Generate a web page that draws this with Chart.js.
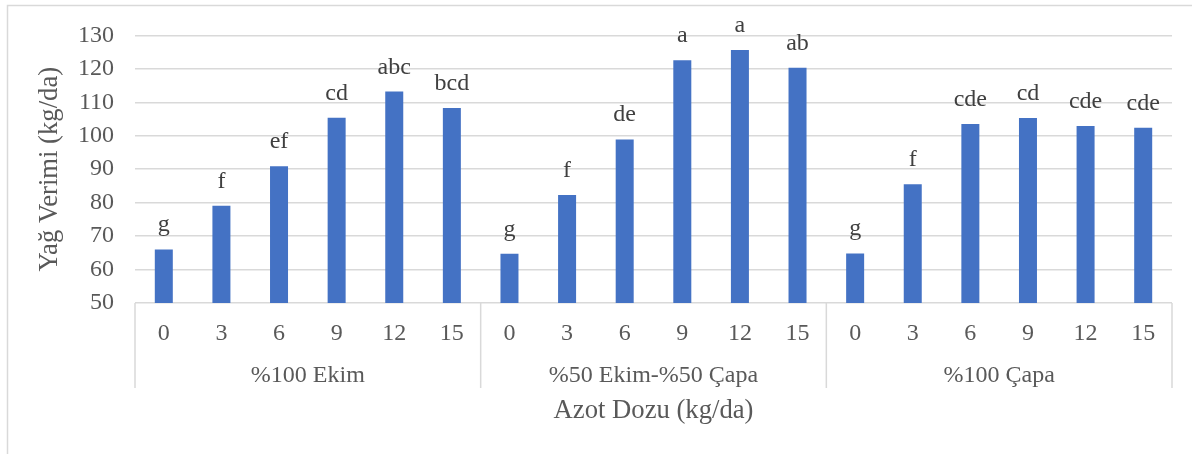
<!DOCTYPE html>
<html lang="tr">
<head>
<meta charset="utf-8">
<title>Yağ Verimi</title>
<script src="https://cdn.jsdelivr.net/npm/chart.js@4.4.1/dist/chart.umd.min.js"></script>
<style>
  html, body { margin: 0; padding: 0; background: #ffffff; }
  #wrap { position: relative; width: 1192px; height: 454px; }
</style>
</head>
<body>
<div id="wrap"><canvas id="chart"></canvas></div>
<script>
// Ekim yöntemleri (grup etiketleri) ve azot dozları (kg/da)
const groups = ['%100 Ekim', '%50 Ekim-%50 Çapa', '%100 Çapa'];
const doses = ['0', '3', '6', '9', '12', '15'];

// Yağ verimi (kg/da) değerleri, her yöntem için doz sırasıyla
const ekim = [66.0, 79.1, 90.9, 105.4, 113.2, 108.3];
const ekimCapa = [64.7, 82.3, 98.9, 122.6, 125.6, 120.3];
const capa = [64.8, 85.5, 103.5, 105.3, 102.9, 102.4];

// Önemlilik harfleri
const ekimLetters = ['g', 'f', 'ef', 'cd', 'abc', 'bcd'];
const ekimCapaLetters = ['g', 'f', 'de', 'a', 'a', 'ab'];
const capaLetters = ['g', 'f', 'cde', 'cd', 'cde', 'cde'];

// Y ekseni
const yMin = 50, yMax = 130, yStep = 10;

const labels = [].concat(doses, doses, doses);
const values = [].concat(ekim, ekimCapa, capa);
const letters = [].concat(ekimLetters, ekimCapaLetters, capaLetters);

const FONT = '"Liberation Serif", "Times New Roman", serif';
const GRID = '#d9d9d9';

// Çerçeve, grup ayırıcıları, grup adları ve harfler
const decorations = {
  id: 'decorations',
  beforeDraw(chart) {
    const ctx = chart.ctx;
    ctx.save();
    ctx.strokeStyle = GRID;
    ctx.lineWidth = 1.5;
    ctx.strokeRect(7.5, 5.5, chart.width + 20, chart.height + 20);
    ctx.restore();
  },
  afterDatasetsDraw(chart) {
    const ctx = chart.ctx;
    const x = chart.scales.x;
    const area = chart.chartArea;
    const per = doses.length;

    ctx.save();
    // grup sınır çizgileri
    ctx.strokeStyle = GRID;
    ctx.lineWidth = 1.5;
    const half = (x.getPixelForValue(1) - x.getPixelForValue(0)) / 2;
    for (let g = 0; g <= groups.length; g++) {
      let px;
      if (g === 0) px = area.left;
      else if (g === groups.length) px = area.right;
      else px = x.getPixelForValue(g * per) - half;
      ctx.beginPath();
      ctx.moveTo(px, area.bottom);
      ctx.lineTo(px, area.bottom + 85);
      ctx.stroke();
    }

    // grup adları
    ctx.fillStyle = '#595959';
    ctx.font = '24px ' + FONT;
    ctx.textAlign = 'center';
    ctx.textBaseline = 'alphabetic';
    groups.forEach((name, g) => {
      const cx = (x.getPixelForValue(g * per) + x.getPixelForValue(g * per + per - 1)) / 2;
      ctx.fillText(name, cx, area.bottom + 79);
    });

    // çubuk üstü harfler
    ctx.fillStyle = '#404040';
    const meta = chart.getDatasetMeta(0);
    meta.data.forEach((bar, i) => {
      ctx.fillText(letters[i], bar.x, bar.y - 18);
    });
    ctx.restore();
  }
};

new Chart(document.getElementById('chart'), {
  type: 'bar',
  data: {
    labels: labels,
    datasets: [{
      data: values,
      backgroundColor: '#4472c4',
      borderWidth: 0,
      barPercentage: 0.3125,
      categoryPercentage: 1.0
    }]
  },
  options: {
    responsive: true,
    maintainAspectRatio: false,
    animation: false,
    layout: { padding: { top: 34, right: 20, bottom: 0, left: 0 } },
    plugins: {
      legend: { display: false },
      tooltip: { enabled: false }
    },
    scales: {
      x: {
        grid: { display: false },
        border: { display: false },
        ticks: {
          color: '#595959',
          font: { family: FONT, size: 24 },
          padding: 8,
          maxRotation: 0,
          autoSkip: false
        },
        title: {
          display: true,
          text: 'Azot Dozu (kg/da)',
          color: '#595959',
          font: { family: FONT, size: 26.67 },
          padding: { top: 0, bottom: 27 }
        },
        afterFit(scale) { scale.height = 151; }
      },
      y: {
        min: yMin,
        max: yMax,
        grid: { color: GRID, lineWidth: 1.5, drawTicks: false },
        border: { display: false },
        ticks: {
          stepSize: yStep,
          color: '#595959',
          font: { family: FONT, size: 24 },
          padding: 21
        },
        title: {
          display: true,
          text: 'Yağ Verimi (kg/da)',
          color: '#595959',
          font: { family: FONT, size: 26.67 },
          padding: { top: 34, bottom: 0 }
        },
        afterFit(scale) { scale.width = 135; }
      }
    }
  },
  plugins: [decorations]
});
</script>
</body>
</html>
